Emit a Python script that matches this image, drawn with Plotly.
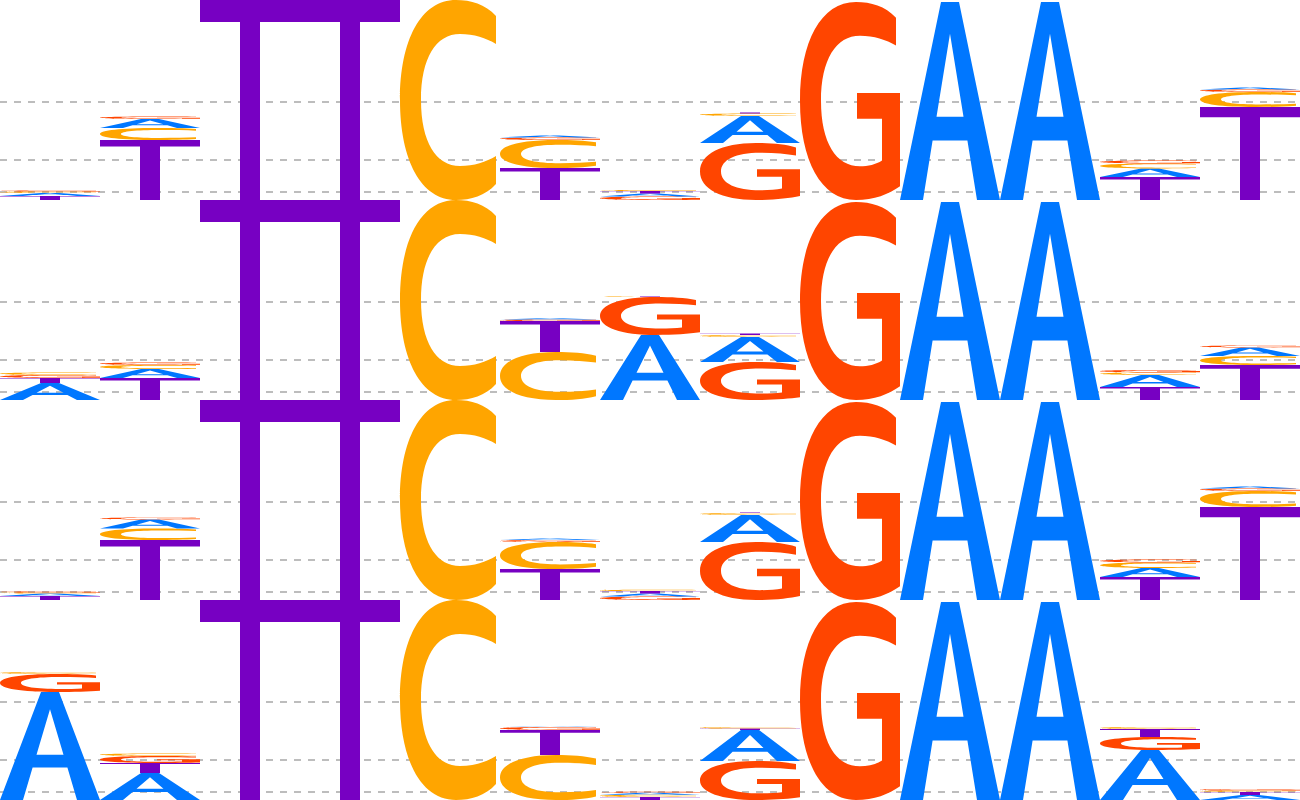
import plotly.graph_objects as go
from plotly.subplots import make_subplots

positions = list(range(1, 14))

# letter heights (bits) per position, one logo per row
logo1_A = [0.03, 0.09, 0, 0, 0, 0.02, 0.03, 0.27, 0, 1.98, 1.98, 0.085, 0.02]
logo1_C = [0.015, 0.12, 0, 0, 2.0, 0.28, 0.01, 0.025, 0, 0, 0, 0.05, 0.15]
logo1_G = [0.01, 0.025, 0, 0, 0, 0.025, 0.035, 0.57, 1.98, 0, 0, 0.03, 0.025]
logo1_T = [0.04, 0.60, 2.0, 2.0, 0, 0.32, 0.025, 0.01, 0, 0, 0, 0.23, 0.93]

logo2_A = [0.17, 0.09, 0, 0, 0, 0.012, 0.65, 0.25, 0, 1.98, 1.98, 0.12, 0.085]
logo2_C = [0.025, 0.04, 0, 0, 2.0, 0.48, 0.005, 0.02, 0, 0, 0, 0.026, 0.09]
logo2_G = [0.03, 0.025, 0, 0, 0, 0.015, 0.38, 0.38, 1.98, 0, 0, 0.024, 0.02]
logo2_T = [0.05, 0.22, 2.0, 2.0, 0, 0.31, 0.005, 0.015, 0, 0, 0, 0.13, 0.35]

logo3_A = [0.025, 0.09, 0, 0, 0, 0.015, 0.03, 0.27, 0, 1.98, 1.98, 0.09, 0.02]
logo3_C = [0.01, 0.115, 0, 0, 2.0, 0.27, 0.012, 0.02, 0, 0, 0, 0.055, 0.16]
logo3_G = [0.01, 0.02, 0, 0, 0, 0.02, 0.035, 0.58, 1.98, 0, 0, 0.03, 0.025]
logo3_T = [0.04, 0.60, 2.0, 2.0, 0, 0.31, 0.025, 0.005, 0, 0, 0, 0.23, 0.93]

logo4_A = [1.08, 0.27, 0, 0, 0, 0.005, 0.02, 0.31, 0, 1.98, 1.98, 0.50, 0.05]
logo4_C = [0.02, 0.025, 0, 0, 2.0, 0.45, 0.022, 0.012, 0, 0, 0, 0.02, 0.015]
logo4_G = [0.18, 0.07, 0, 0, 0, 0.03, 0.01, 0.39, 1.98, 0, 0, 0.13, 0.012]
logo4_T = [0, 0.10, 2.0, 2.0, 0, 0.25, 0.03, 0.015, 0, 0, 0, 0.08, 0.03]

logos = [
    {"A": logo1_A, "C": logo1_C, "G": logo1_G, "T": logo1_T},
    {"A": logo2_A, "C": logo2_C, "G": logo2_G, "T": logo2_T},
    {"A": logo3_A, "C": logo3_C, "G": logo3_G, "T": logo3_T},
    {"A": logo4_A, "C": logo4_C, "G": logo4_G, "T": logo4_T},
]

grid_values = [0.083, 0.4, 0.983]

letter_colors = {"A": "#0077ff", "C": "#ffa500", "G": "#ff4500", "T": "#7700c2"}

# glyph outlines in a unit box (x right, y up), stretched onto each stack slot
GLYPHS = {
    "A": "M 0 0 L 0.41 1 L 0.59 1 L 1 0 L 0.77 0 L 0.674 0.3 L 0.326 0.3 L 0.23 0 Z "
         "M 0.365 0.42 L 0.635 0.42 L 0.5 0.84 Z",
    "C": "M 0.96 0.92 C 0.85 0.98 0.71 1 0.56 1 C 0.21 1 0 0.8 0 0.5 "
         "C 0 0.2 0.21 0 0.56 0 C 0.71 0 0.85 0.02 0.96 0.08 L 0.96 0.22 "
         "C 0.86 0.19 0.74 0.17 0.6 0.17 C 0.36 0.17 0.21 0.29 0.21 0.5 "
         "C 0.21 0.71 0.36 0.83 0.6 0.83 C 0.74 0.83 0.86 0.81 0.96 0.78 Z",
    "G": "M 0.96 0.92 C 0.85 0.98 0.71 1 0.56 1 C 0.21 1 0 0.8 0 0.5 "
         "C 0 0.2 0.21 0 0.56 0 C 0.74 0 0.89 0.03 1 0.07 L 1 0.54 L 0.57 0.54 "
         "L 0.57 0.41 L 0.82 0.41 L 0.82 0.2 C 0.76 0.18 0.68 0.17 0.6 0.17 "
         "C 0.36 0.17 0.21 0.29 0.21 0.5 C 0.21 0.71 0.36 0.83 0.6 0.83 "
         "C 0.74 0.83 0.86 0.81 0.96 0.78 Z",
    "T": "M 0 1 L 1 1 L 1 0.89 L 0.6 0.89 L 0.6 0 L 0.4 0 L 0.4 0.89 L 0 0.89 Z",
}


def glyph_path(letter, pos, base, height):
    parts = []
    pending = None
    for tok in GLYPHS[letter].split():
        if tok.isalpha():
            parts.append(tok)
        elif pending is None:
            pending = float(tok)
        else:
            x = pos - 0.5 + pending
            y = base + float(tok) * height
            parts.append(f"{x:.4f},{y:.5f}")
            pending = None
    return " ".join(parts)


fig = make_subplots(rows=4, cols=1, vertical_spacing=0)

shapes = []
for r, logo in enumerate(logos, start=1):
    xref = "x" if r == 1 else f"x{r}"
    yref = "y" if r == 1 else f"y{r}"
    for i, pos in enumerate(positions):
        stack = [(logo[l][i], l) for l in "ACGT" if logo[l][i] > 0]
        # biggest letter at the bottom
        stack.sort(key=lambda s: -s[0])
        base = 0.0
        for h, l in stack:
            shapes.append(dict(
                type="path", xref=xref, yref=yref,
                path=glyph_path(l, pos, base, h),
                fillcolor=letter_colors[l], line_width=0, layer="above",
            ))
            base += h

fig.update_xaxes(range=[0.5, 13.5], visible=False)
fig.update_yaxes(range=[0, 2], tickvals=grid_values, showticklabels=False, ticks="",
                 showgrid=True, gridcolor="#bdbdbd", gridwidth=2, griddash="7px,7px",
                 zeroline=False, showline=False)
fig.update_layout(shapes=shapes, width=1300, height=800,
                  margin=dict(l=0, r=0, t=0, b=0),
                  plot_bgcolor="white", paper_bgcolor="white", showlegend=False)

fig.write_html("out.html", config={"displayModeBar": False},
               post_script="document.body.style.margin='0';")
